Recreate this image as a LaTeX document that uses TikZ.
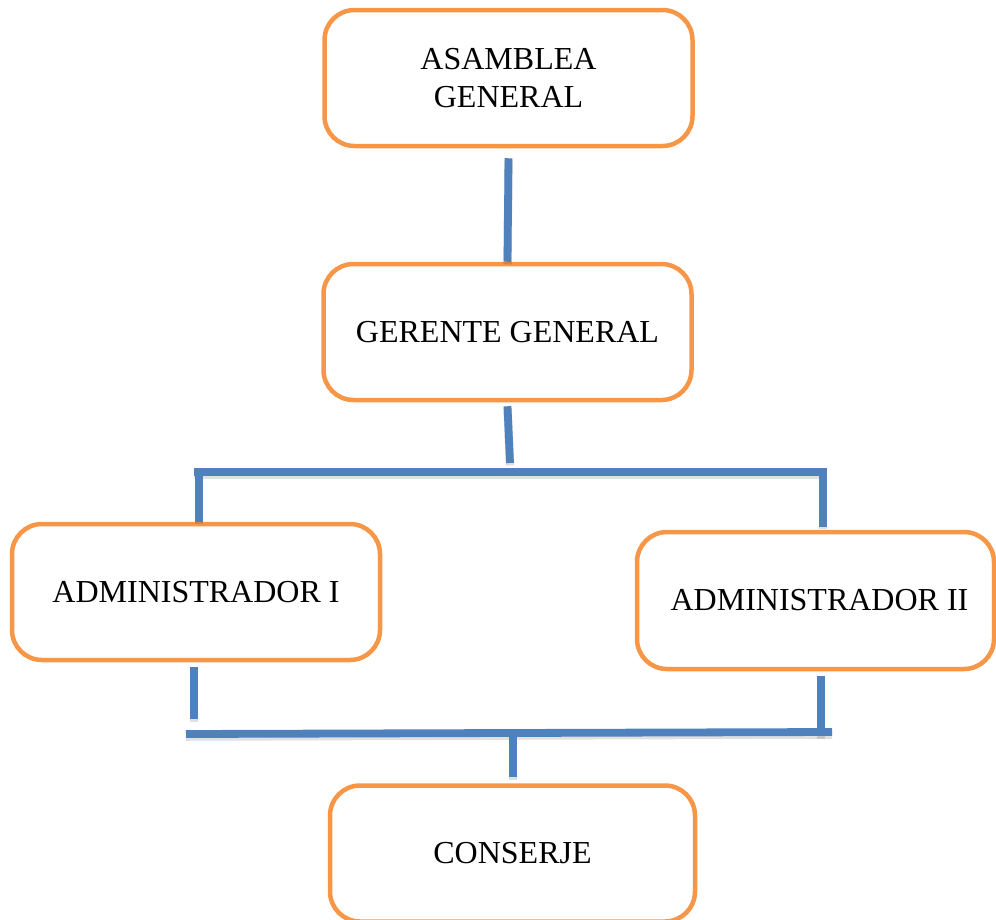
\documentclass[tikz,border=0pt]{standalone}
\usepackage{fontspec}
\setmainfont{Liberation Serif}
\usetikzlibrary{calc}
\definecolor{boxorange}{HTML}{F79646}
\definecolor{linkblue}{HTML}{4F81BD}
\begin{document}
\begin{tikzpicture}[x=1pt,y=-1pt,
  unit/.style={draw=boxorange, line width=4.5pt, rounded corners=30pt,
    fill=white, minimum width=368pt, minimum height=136pt, align=center,
    inner sep=0pt, font=\fontsize{32}{38}\selectfont},
  link/.style={draw=linkblue, line width=7.8pt,
    preaction={draw=black, opacity=0.12, line width=8.5pt,
      transform canvas={yshift=-2.5pt}}}]
\useasboundingbox (0,0) rectangle (996,919);

% boxes of the organisation chart
\node[unit] (asamblea) at (508.5,78) {ASAMBLEA\\GENERAL};
\node[unit] (gerente) at (507.5,332) {GERENTE GENERAL};
\node[unit] (admin1) at (196,592) {ADMINISTRADOR I};
\node[unit, minimum width=357pt, minimum height=137pt] (admin2) at (815.5,600.5) {\hspace*{8pt}ADMINISTRADOR II};
\node[unit, minimum width=365pt] (conserje) at (512.5,853.5) {CONSERJE};

% junction points of the connecting bars
\coordinate (jg) at (510,463);
\coordinate (busL) at (194,472);
\coordinate (busR) at (827,472);
\coordinate (dropL) at (199,468);
\coordinate (dropR) at (823,468);
\coordinate (upL) at (194,719);
\coordinate (upR) at (821,736);
\coordinate (lowL) at (186,734);
\coordinate (lowR) at (832,732);
\coordinate (lowM) at (513,730);

% upper part
\draw[link] ([yshift=-10pt]asamblea.south) -- (gerente.north);
\draw[link] ([yshift=-4pt]gerente.south) -- (jg);
\draw[link] (busL) -- (busR);
\draw[link] (dropL) -- (dropL |- admin1.north);
\draw[link, shorten >=3pt] (dropR) -- (dropR |- admin2.north);

% lower part
\draw[link, shorten <=5pt] (upL |- admin1.south) -- (upL);
\draw[link, shorten <=5pt] (upR |- admin2.south) -- (upR);
\draw[link] (lowL) -- (lowR);
\draw[link, shorten >=6pt] (lowM) -- (lowM |- conserje.north);
\end{tikzpicture}
\end{document}
